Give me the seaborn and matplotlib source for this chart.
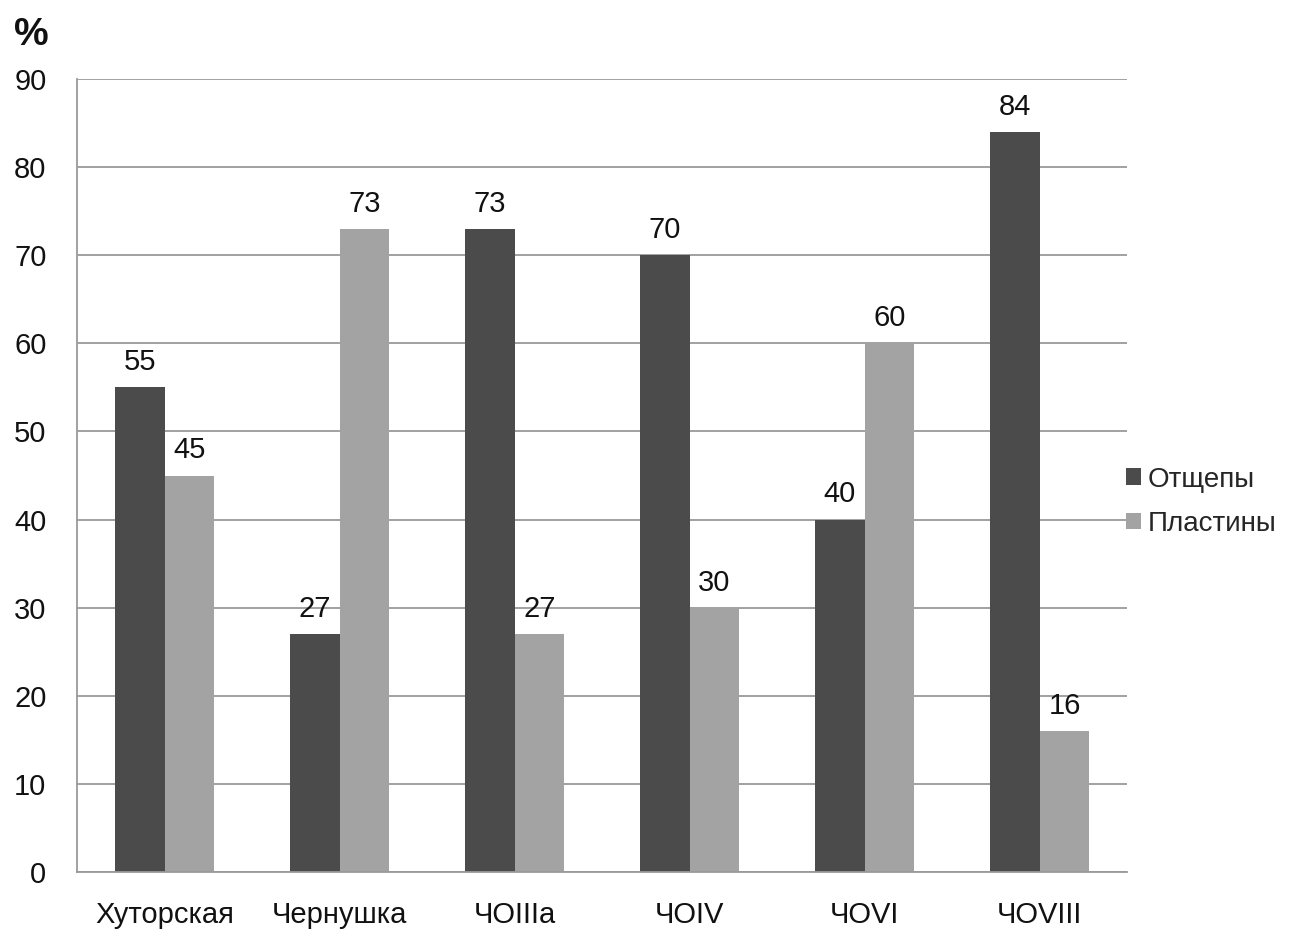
import matplotlib
matplotlib.use("Agg")
import matplotlib.pyplot as plt
import seaborn as sns
import pandas as pd

sites = ["Хуторская", "Чернушка", "ЧОIIIa", "ЧОIV", "ЧОVI", "ЧОVIII"]
flakes = [55, 27, 73, 70, 40, 84]
blades = [45, 73, 27, 30, 60, 16]
series_names = ["Отщепы", "Пластины"]
yticks = [0, 10, 20, 30, 40, 50, 60, 70, 80, 90]

df = pd.DataFrame({
    "site": sites * 2,
    "value": flakes + blades,
    "kind": [series_names[0]] * len(sites) + [series_names[1]] * len(sites),
})

sns.set_theme(style="white")
plt.rcParams["font.family"] = ["Liberation Sans", "DejaVu Sans"]

fig = plt.figure(figsize=(12.97, 9.33), dpi=100)
ax = fig.add_axes([0.0594, 0.0654, 0.8096, 0.8499])

palette = {series_names[0]: "#4b4b4b", series_names[1]: "#a3a3a3"}
sns.barplot(data=df, x="site", y="value", hue="kind", order=sites,
            hue_order=series_names, palette=palette, width=0.57,
            saturation=1, ax=ax, edgecolor="none", linewidth=0)

for cont in ax.containers:
    ax.bar_label(cont, fmt="%d", padding=8, fontsize=21, color="#111111")

ax.set_ylim(0, 90)
ax.set_yticks(yticks)
ax.set_xlim(-0.5, len(sites) - 0.5)
ax.yaxis.grid(True, color="#9a9a9a", linewidth=1.3)
ax.set_axisbelow(True)
ax.tick_params(axis="both", labelsize=21, colors="#111111", length=0)
ax.tick_params(axis="y", pad=22)
ax.tick_params(axis="x", pad=21)
ax.set_xlabel("")
ax.set_ylabel("")
for s in ["top", "right"]:
    ax.spines[s].set_visible(False)
for s in ["left", "bottom"]:
    ax.spines[s].set_color("#9a9a9a")
    ax.spines[s].set_linewidth(1.3)

leg = ax.legend(loc="center left", bbox_to_anchor=(0.975, 0.467), frameon=False,
                fontsize=20, handlelength=0.55, handleheight=0.55,
                handletextpad=0.25, labelspacing=0.65)

fig.text(0.011, 0.962, "%", fontsize=28, fontweight="bold", color="#111111",
         ha="left", va="center")

fig.savefig("out.png", dpi=100)
